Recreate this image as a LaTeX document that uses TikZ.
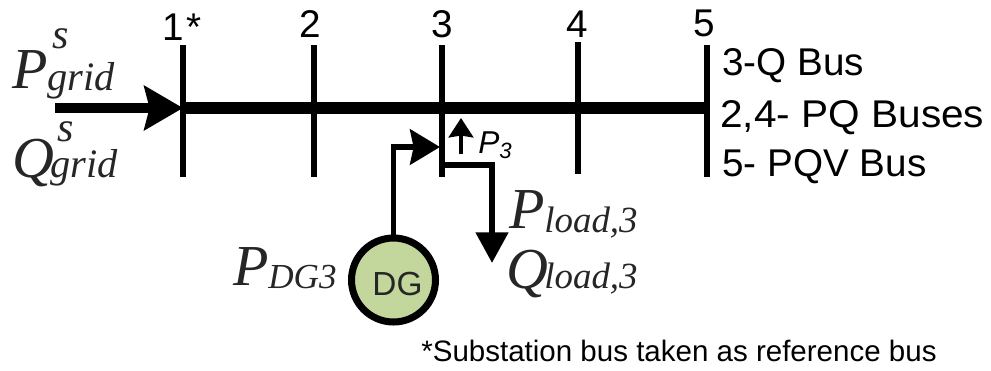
\documentclass[tikz,border=0pt]{standalone}
\usepackage{fontspec}
\setmainfont{Liberation Sans}
\newfontfamily\serifit[Ligatures=TeX]{Liberation Serif}
\usetikzlibrary{arrows.meta}
\definecolor{dggreen}{RGB}{195,214,155}
\tikzset{
	buslabel/.style={inner sep=0pt, anchor=base, font=\fontsize{22}{22}\selectfont},
	noteline/.style={inner sep=0pt, anchor=base west, font=\fontsize{22}{22}\selectfont},
	bigsym/.style={inner sep=0pt, anchor=base west, text=black!85, font=\serifit\itshape\fontsize{33}{33}\selectfont},
	subsym/.style={inner sep=0pt, anchor=base west, text=black!85, font=\serifit\itshape\fontsize{21}{21}\selectfont},
	gridsym/.style={subsym, font=\serifit\itshape\fontsize{23}{23}\selectfont},
	busbar/.style={line width=7pt},
	feeder/.style={line width=3.4pt},
	bigtip/.style={-{Stealth[length=22pt,width=25pt,inset=3pt]}},
	midtip/.style={-{Stealth[length=17pt,width=20pt,inset=2pt]}},
	loadtip/.style={-{Triangle[length=17.5pt,width=18pt]}}
}
\begin{document}
\begin{tikzpicture}[x=.02cm, y=-.02cm]
		\useasboundingbox (0,0) rectangle (991,370);
		% buses
		\foreach \busname/\busx/\bustop/\busend in {1/183/45/177, 2/314/45/177, 3/442/45/177, 4/578/42/174, 5/707/45/177} {
			\coordinate (t\busname) at (\busx,\bustop);
			\coordinate (m\busname) at (\busx,108);
			\coordinate (b\busname) at (\busx,\busend);
			\draw[line width=3pt] (t\busname) -- (b\busname);
		}
		\node[buslabel, anchor=base west] (l1) at (162,40) {1\hspace{1.4pt}*};
		\node[buslabel] (l2) at (310,37.5) {2};
		\node[buslabel] (l3) at (442,37.5) {3};
		\node[buslabel] (l4) at (577,37.5) {4};
		\node[buslabel] (l5) at (704,36) {5};
		\draw[busbar] (m1) -- (m5);
		% grid side
		\coordinate (gridin) at (55,108);
		\draw[line width=5.5pt, bigtip] (gridin) -- (m1);
		\node[bigsym] (pg) at (12,88) {P};
		\node[subsym, font=\serifit\itshape\fontsize{24}{24}\selectfont] (pgs) at (52,48) {s};
		\node[gridsym] (pgg) at (47,90) {grid};
		\node[bigsym] (qg) at (12,177) {Q};
		\node[subsym, font=\serifit\itshape\fontsize{24}{24}\selectfont] (qgs) at (57,141) {s};
		\node[gridsym] (qgg) at (50,177) {grid};
		% DG
		\node[circle, draw, line width=4pt, fill=dggreen, minimum size=1.68cm, inner sep=0pt] (dg) at (393.5,280) {};
		\node[inner sep=0pt, text=black!85, font=\fontsize{19}{19}\selectfont] (dgtext) at (397.5,284) {DG};
		\coordinate (dgin) at (440,147);
		\draw[feeder, midtip] (dg.north) |- (dgin);
		\node[bigsym] (pd) at (233,285) {P};
		\node[subsym, font=\serifit\itshape\fontsize{20}{20}\selectfont] (pds) at (268,288) {DG3};
		% load
		\coordinate (lj) at (442,165);
		\coordinate (lc) at (492,165);
		\coordinate (le) at (492,263);
		\draw[feeder, loadtip] (lj) -- (lc) -- (le);
		\coordinate (p3a) at (461,154);
		\coordinate (p3b) at (461,118);
		\draw[line width=2.2pt, -{Stealth[length=11pt,width=14pt,inset=1pt]}] (p3a) -- (p3b);
		\node[inner sep=0pt, anchor=base west, font=\itshape\fontsize{18}{18}\selectfont] (p3) at (478,153) {P\textsubscript{3}};
		\node[bigsym] (pl) at (509,228) {P};
		\node[subsym] (pls) at (544,232) {load,3};
		\node[bigsym] (ql) at (506,288) {Q};
		\node[subsym] (qls) at (544,288) {load,3};
		% notes
		\node[noteline] (n1) at (722,75) {3-Q Bus};
		\node[noteline] (n2) at (720,127) {\scalebox{1.05}[1]{2,4- PQ Buses}};
		\node[noteline] (n3) at (722,176) {5- PQV Bus};
		\node[inner sep=0pt, anchor=base west, font=\fontsize{16.8}{16.8}\selectfont] (n4) at (421,361) {*Substation bus taken as reference bus};
	\end{tikzpicture}
\end{document}
